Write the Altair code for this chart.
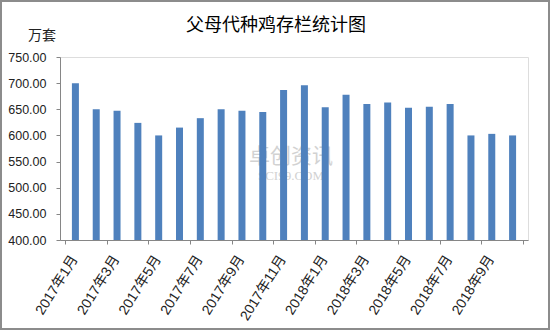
import altair as alt
import pandas as pd

months = ["2017年1月","2017年2月","2017年3月","2017年4月","2017年5月","2017年6月",
          "2017年7月","2017年8月","2017年9月","2017年10月","2017年11月","2017年12月",
          "2018年1月","2018年2月","2018年3月","2018年4月","2018年5月","2018年6月",
          "2018年7月","2018年8月","2018年9月","2018年10月"]
values = [700, 650, 647, 624, 600, 615, 633, 650, 647, 645, 687, 696,
          654, 678, 660, 663, 653, 655, 660, 600, 603, 600]
y_ticks = [400, 450, 500, 550, 600, 650, 700, 750]

df = pd.DataFrame({"month": months, "value": values})
df["pos"] = [i + 0.5 for i in range(len(months))]
df["show"] = [i % 2 == 0 for i in range(len(months))]

W, H = 468, 183
NUMFONT = "'Liberation Sans', 'Noto Sans CJK SC', sans-serif"
CJK = "'Noto Sans CJK SC', sans-serif"
AXIS_COLOR = "#868686"

xscale = alt.Scale(domain=[0, 22], nice=False, zero=False)
yscale = alt.Scale(domain=[400, 750], nice=False, zero=False)

base = alt.Chart(df)

bars = base.mark_bar(size=7, color="#4F81BD", clip=True).encode(
    x=alt.X("pos:Q", scale=xscale,
            axis=alt.Axis(values=list(range(0, 23, 2)), labels=False, title=None,
                          grid=False, domainColor=AXIS_COLOR, tickColor=AXIS_COLOR,
                          tickSize=4, domainWidth=1)),
    y=alt.Y("value:Q", scale=yscale,
            axis=alt.Axis(values=y_ticks, format=".2f", title=None, grid=False,
                          domainColor=AXIS_COLOR, tickColor=AXIS_COLOR, tickSize=4,
                          labelFont=NUMFONT, labelFontSize=12.5, labelColor="#222222",
                          labelPadding=10)),
    y2=alt.datum(400),
)

xlabels = base.transform_filter("datum.show").mark_text(
    angle=302, align="right", baseline="middle", font=NUMFONT, fontSize=14,
    color="#222222", dx=-1
).encode(
    x=alt.X("pos:Q", scale=xscale),
    y=alt.value(H + 16),
    text="month:N",
)

wm1 = alt.Chart(pd.DataFrame({"t": ["卓创资讯"]})).mark_text(
    font=CJK, fontSize=21, color="#d2d2d2", align="center", baseline="middle"
).encode(x=alt.value(231), y=alt.value(100), text="t:N")
wm2 = alt.Chart(pd.DataFrame({"t": ["SCI99.COM"]})).mark_text(
    font="'Liberation Serif', serif", fontSize=13, color="#d2d2d2", align="center",
    baseline="middle"
).encode(x=alt.value(231), y=alt.value(119), text="t:N")

title = alt.Chart(pd.DataFrame({"t": ["父母代种鸡存栏统计图"]})).mark_text(
    font=CJK, fontSize=18, color="#000000", align="center", baseline="middle"
).encode(x=alt.value(216), y=alt.value(-31), text="t:N")

unit = alt.Chart(pd.DataFrame({"t": ["万套"]})).mark_text(
    font=CJK, fontSize=14, color="#222222", align="left", baseline="middle"
).encode(x=alt.value(-32), y=alt.value(-21), text="t:N")

border = alt.Chart(pd.DataFrame({"a": [0]})).mark_rect(
    fill=None, stroke="#8c8c8c", strokeWidth=2, clip=False
).encode(x=alt.value(-59), x2=alt.value(489), y=alt.value(-56), y2=alt.value(272))

chart = alt.layer(wm1, wm2, bars, xlabels, title, unit, border).properties(
    width=W, height=H,
    autosize=alt.AutoSizeParams(type="none"),
    padding={"left": 60, "top": 57, "right": 22, "bottom": 90},
).configure_view(stroke=None).configure(background="white")

chart.save("out.html", embed_options={"renderer": "svg", "actions": False})
